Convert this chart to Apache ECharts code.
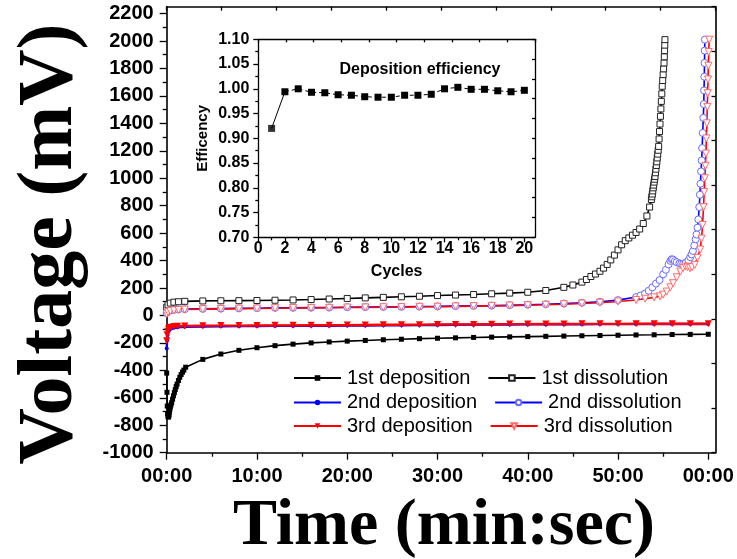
<!DOCTYPE html>
<html>
<head>
<meta charset="utf-8">
<script src="https://cdn.jsdelivr.net/npm/echarts@6/dist/echarts.min.js"></script>
<style>
  html, body { margin: 0; padding: 0; background: #fff; }
  #chart { width: 737px; height: 559px; }
</style>
</head>
<body>
<div id="chart"></div>
<script>
// ---- Galvanostatic cycling: voltage (mV) versus time (min) ----
// Each series is a list of [time in minutes, voltage in mV].
const deposition1 = [
  [0, -420], [0.03, -560], [0.06, -660], [0.1, -715], [0.14, -735], [0.18, -740], [0.22, -738],
  [0.26, -725], [0.3, -705], [0.35, -685], [0.4, -668], [0.47, -652], [0.55, -636], [0.65, -610],
  [0.75, -585], [0.85, -562], [0.95, -540], [1.05, -518], [1.15, -500], [1.3, -474], [1.45, -450],
  [1.6, -430], [1.75, -413], [1.9, -398], [2.1, -377], [4, -320], [6, -281], [8, -254], [10, -235],
  [12, -220], [14, -209], [16, -200], [18, -193], [20, -187], [22, -182], [24, -177], [26, -173],
  [28, -169], [30, -166], [32, -163], [34, -160], [36, -158], [38, -156], [40, -154], [42, -152],
  [44, -150], [46, -148], [48, -146], [50, -144], [52, -142], [54, -141], [56, -139], [58, -138], [60, -137]
];
const dissolution1 = [
  [0, 60], [0.15, 78], [0.4, 90], [0.8, 97], [1.3, 100], [2, 103], [4, 106], [6, 107], [8, 108],
  [10, 109], [12, 111], [14, 113], [16, 116], [18, 120], [20, 124], [22, 128], [24, 132], [26, 136],
  [28, 140], [30, 145], [32, 149], [34, 153], [36, 158], [38, 163], [40, 169], [42, 182], [44, 205],
  [45, 222], [46, 243], [46.5, 262], [47, 284], [47.5, 302], [48, 322], [48.4, 345], [48.8, 372],
  [49.2, 405], [49.6, 440], [50, 478], [50.4, 515], [50.8, 545], [51.2, 565], [51.6, 585], [52, 605],
  [52.4, 630], [52.8, 670], [53.2, 725], [53.5, 790], [53.7, 845], [53.75, 865], [53.8, 885],
  [53.85, 908], [53.9, 930], [53.95, 950], [54, 972], [54.05, 993], [54.1, 1013], [54.15, 1040],
  [54.2, 1066], [54.25, 1093], [54.3, 1120], [54.35, 1148], [54.4, 1176], [54.45, 1204], [54.5, 1232],
  [54.55, 1286], [54.6, 1340], [54.65, 1395], [54.7, 1451], [54.75, 1505], [54.8, 1560], [54.85, 1615],
  [54.9, 1670], [54.95, 1712], [55, 1755], [55.05, 1797], [55.1, 1840], [55.13, 1885], [55.16, 1930],
  [55.18, 1970], [55.2, 2010]
];
const deposition2 = [
  [0, -240], [0.05, -180], [0.1, -140], [0.2, -115], [0.3, -103], [0.5, -95], [0.8, -90], [1.2, -86],
  [2, -83], [4, -80], [6, -79], [8, -78], [10, -77], [12, -76], [14, -76], [16, -75], [18, -75],
  [20, -74], [22, -73], [24, -72], [26, -71], [28, -70], [30, -69], [32, -68], [34, -67], [36, -66],
  [38, -66], [40, -65], [42, -65], [44, -64], [46, -64], [48, -63], [50, -63], [52, -63], [54, -62],
  [56, -62], [58, -62], [60, -62]
];
const dissolution2 = [
  [0, 18], [0.15, 30], [0.4, 37], [0.8, 41], [1.3, 44], [2, 46], [4, 48], [6, 50], [8, 52], [10, 53],
  [12, 55], [14, 56], [16, 57], [18, 58], [20, 60], [22, 61], [24, 62], [26, 63], [28, 65], [30, 66],
  [32, 68], [34, 70], [36, 72], [38, 75], [40, 78], [42, 82], [44, 87], [46, 93], [48, 100], [50, 112],
  [52, 134], [52.5, 146], [53, 160], [53.4, 180], [53.8, 205], [54.2, 232], [54.6, 258], [55, 300],
  [55.3, 333], [55.6, 372], [55.8, 398], [55.94, 410], [56.1, 407], [56.3, 396], [56.5, 388],
  [56.8, 380], [57, 376], [57.23, 376], [57.5, 384], [57.8, 402], [58, 425], [58.15, 445], [58.3, 470],
  [58.45, 510], [58.6, 555], [58.7, 590], [58.8, 640], [58.9, 700], [59, 790], [59.07, 880],
  [59.13, 960], [59.2, 1050], [59.27, 1130], [59.32, 1220], [59.38, 1330], [59.45, 1440], [59.5, 1540],
  [59.53, 1640], [59.56, 1740], [59.58, 1840], [59.6, 1930], [59.62, 2010]
];
const deposition3 = [
  [0, -185], [0.05, -140], [0.1, -115], [0.2, -98], [0.3, -90], [0.5, -85], [0.8, -81], [1.2, -79],
  [2, -77], [4, -75], [6, -74], [8, -74], [10, -73], [12, -72], [14, -72], [16, -71], [18, -71],
  [20, -70], [22, -69], [24, -68], [26, -68], [28, -67], [30, -66], [32, -65], [34, -65], [36, -64],
  [38, -63], [40, -63], [42, -62], [44, -62], [46, -61], [48, -61], [50, -61], [52, -60], [54, -60],
  [56, -60], [58, -60], [60, -60]
];
const dissolution3 = [
  [0, 12], [0.15, 24], [0.4, 32], [0.8, 37], [1.3, 40], [2, 43], [4, 46], [6, 48], [8, 50], [10, 51],
  [12, 53], [14, 54], [16, 55], [18, 56], [20, 58], [22, 59], [24, 60], [26, 61], [28, 63], [30, 64],
  [32, 66], [34, 68], [36, 70], [38, 72], [40, 75], [42, 78], [44, 82], [46, 87], [48, 93], [50, 102],
  [52, 113], [53, 122], [54, 132], [54.65, 140], [55, 152], [55.4, 174], [55.8, 205], [56.1, 235],
  [56.5, 278], [56.9, 320], [57.2, 345], [57.45, 357], [57.7, 352], [57.97, 345], [58.2, 352],
  [58.5, 369], [58.8, 420], [59.1, 480], [59.25, 560], [59.37, 660], [59.47, 790], [59.55, 900],
  [59.62, 1000], [59.68, 1090], [59.74, 1180], [59.79, 1290], [59.84, 1400], [59.89, 1520],
  [59.93, 1620], [59.97, 1720], [60.01, 1820], [60.05, 1920], [60.1, 2010]
];

// Inset: deposition efficiency per cycle
const effCycles = [1, 2, 3, 4, 5, 6, 7, 8, 9, 10, 11, 12, 13, 14, 15, 16, 17, 18, 19, 20];
const effValues = [0.920, 0.994, 1.000, 0.993, 0.992, 0.988, 0.987, 0.984, 0.983, 0.983,
                   0.987, 0.987, 0.989, 1.000, 1.003, 0.999, 0.999, 0.996, 0.994, 0.997];

// Tick positions
const timeMajorTicks = [0, 10, 20, 30, 40, 50, 60];
const timeMinorTicks = [5, 15, 25, 35, 45, 55];
const voltMajorTicks = [-1000, -800, -600, -400, -200, 0, 200, 400, 600, 800, 1000, 1200, 1400, 1600, 1800, 2000, 2200];
const voltMinorTicks = [-900, -700, -500, -300, -100, 100, 300, 500, 700, 900, 1100, 1300, 1500, 1700, 1900, 2100];
const cycleMajorTicks = [0, 2, 4, 6, 8, 10, 12, 14, 16, 18, 20];
const cycleMinorTicks = [1, 3, 5, 7, 9, 11, 13, 15, 17, 19];
const effMajorTicks = [0.70, 0.75, 0.80, 0.85, 0.90, 0.95, 1.00, 1.05, 1.10];
const effMinorTicks = [0.725, 0.775, 0.825, 0.875, 0.925, 0.975, 1.025, 1.075];

const legendRows = [
  ['1st deposition', '1st dissolution'],
  ['2nd deposition', '2nd dissolution'],
  ['3rd deposition', '3rd dissolution']
];

const BLACK = '#000';
const BLUE = '#0000ff';
const RED = '#ff0000';

function fmtTime(v) {
  const m = Math.round(v) % 60;
  return (m < 10 ? '0' : '') + m + ':00';
}

const frameLine = { show: true, onZero: false, lineStyle: { color: BLACK, width: 1.6 } };
const insetLine = { show: true, onZero: false, lineStyle: { color: BLACK, width: 1.3 } };
const tickLine = { color: BLACK, width: 1.3 };
const noSplit = { show: false };

// builds an axis that only draws a set of tick marks
function tickAxis(base, values, len, labelCfg) {
  return Object.assign({
    type: 'value',
    axisLine: { show: false, onZero: false },
    axisTick: { show: true, customValues: values, length: len, inside: false, lineStyle: tickLine },
    axisLabel: labelCfg || { show: false },
    splitLine: noSplit
  }, base);
}
// mirrored frame side with ten equal divisions
function frameAxis(base, len) {
  return Object.assign({
    type: 'value', min: 0, max: 10, interval: 1,
    axisLine: frameLine,
    axisTick: { show: true, inside: true, length: len, lineStyle: tickLine },
    axisLabel: { show: false },
    splitLine: noSplit
  }, base);
}

const mainLabel = { fontSize: 20, fontWeight: 'bold', fontFamily: 'Liberation Sans', color: BLACK };
const insetLabel = { fontSize: 16, fontWeight: 'bold', fontFamily: 'Liberation Sans', color: BLACK };

const chart = echarts.init(document.getElementById('chart'), null, { renderer: 'canvas' });

const option = {
  animation: false,
  backgroundColor: '#fff',
  grid: [
    { left: 166.7, top: 6.7, width: 548.8, height: 446 },
    { left: 258.3, top: 39.3, width: 276.7, height: 198, backgroundColor: '#fff', show: true, borderWidth: 0 }
  ],
  xAxis: [
    // main time axis
    tickAxis({ gridIndex: 0, position: 'bottom', min: 0, max: 60.8, axisLine: frameLine }, timeMajorTicks, 7,
      Object.assign({ show: true, customValues: timeMajorTicks, formatter: fmtTime, margin: 14 }, mainLabel)),
    tickAxis({ gridIndex: 0, position: 'bottom', min: 0, max: 60.8 }, timeMinorTicks, 4),
    frameAxis({ gridIndex: 0, position: 'top' }, 4),
    // inset cycle axis
    tickAxis({ gridIndex: 1, position: 'bottom', min: 0, max: 20.8, axisLine: insetLine,
      name: 'Cycles', nameLocation: 'middle', nameGap: 26,
      nameTextStyle: { fontSize: 16, fontWeight: 'bold', fontFamily: 'Liberation Sans', color: BLACK } },
      cycleMajorTicks, 5,
      Object.assign({ show: true, customValues: cycleMajorTicks, margin: 3 }, insetLabel)),
    tickAxis({ gridIndex: 1, position: 'bottom', min: 0, max: 20.8 }, cycleMinorTicks, 3),
    frameAxis({ gridIndex: 1, position: 'top', axisLine: insetLine }, 3)
  ],
  yAxis: [
    // main voltage axis
    tickAxis({ gridIndex: 0, position: 'left', min: -1000, max: 2250, axisLine: frameLine }, voltMajorTicks, 7,
      Object.assign({ show: true, customValues: voltMajorTicks, margin: 13, formatter: v => String(v) }, mainLabel)),
    tickAxis({ gridIndex: 0, position: 'left', min: -1000, max: 2250 }, voltMinorTicks, 4),
    frameAxis({ gridIndex: 0, position: 'right' }, 4),
    // inset efficiency axis
    tickAxis({ gridIndex: 1, position: 'left', min: 0.7, max: 1.1, axisLine: insetLine,
      name: 'Efficency', nameLocation: 'middle', nameGap: 48, nameRotate: 90,
      nameTextStyle: { fontSize: 15, fontWeight: 'bold', fontFamily: 'Liberation Sans', color: BLACK } },
      effMajorTicks, 5,
      Object.assign({ show: true, customValues: effMajorTicks, margin: 9, formatter: v => v.toFixed(2) }, insetLabel)),
    tickAxis({ gridIndex: 1, position: 'left', min: 0.7, max: 1.1 }, effMinorTicks, 3),
    frameAxis({ gridIndex: 1, position: 'right', axisLine: insetLine }, 3)
  ],
  legend: legendRows.map((names, i) => ({
    data: names,
    left: 293,
    top: [368, 392.5, 416][i],
    orient: 'horizontal',
    padding: 0,
    itemWidth: 47,
    itemHeight: 7,
    itemGap: 17,
    selectedMode: false,
    textStyle: { fontSize: 20, fontFamily: 'Liberation Sans', color: BLACK, padding: [0, 0, 0, 1] }
  })),
  series: [
    {
      name: '1st deposition', type: 'line', xAxisIndex: 0, yAxisIndex: 0, data: deposition1,
      symbol: 'rect', symbolSize: 5,
      lineStyle: { color: BLACK, width: 1.6 }, itemStyle: { color: BLACK }
    },
    {
      name: '1st dissolution', type: 'line', xAxisIndex: 0, yAxisIndex: 0, data: dissolution1,
      symbol: 'rect', symbolSize: 6,
      lineStyle: { color: BLACK, width: 1.6 }, itemStyle: { color: '#fff', borderColor: '#222', borderWidth: 1 }
    },
    {
      name: '2nd deposition', type: 'line', xAxisIndex: 0, yAxisIndex: 0, data: deposition2,
      symbol: 'circle', symbolSize: 4,
      lineStyle: { color: BLUE, width: 2.4 }, itemStyle: { color: BLUE }
    },
    {
      name: '2nd dissolution', type: 'line', xAxisIndex: 0, yAxisIndex: 0, data: dissolution2,
      symbol: 'circle', symbolSize: 7,
      lineStyle: { color: BLUE, width: 1.6 }, itemStyle: { color: '#fff', borderColor: '#6a6aff', borderWidth: 1 }
    },
    {
      name: '3rd deposition', type: 'line', xAxisIndex: 0, yAxisIndex: 0, data: deposition3,
      symbol: 'triangle', symbolRotate: 180, symbolSize: 7,
      lineStyle: { color: RED, width: 2.4 }, itemStyle: { color: RED }
    },
    {
      name: '3rd dissolution', type: 'line', xAxisIndex: 0, yAxisIndex: 0, data: dissolution3,
      symbol: 'triangle', symbolRotate: 180, symbolSize: 7,
      lineStyle: { color: RED, width: 1.6 }, itemStyle: { color: '#fff', borderColor: '#ff6a6a', borderWidth: 1 }
    },
    // inset: first segment solid, the rest dashed
    {
      type: 'line', xAxisIndex: 3, yAxisIndex: 3,
      data: effCycles.slice(0, 2).map((c, i) => [c, effValues[i]]),
      showSymbol: false, lineStyle: { color: BLACK, width: 1 }
    },
    {
      type: 'line', xAxisIndex: 3, yAxisIndex: 3,
      data: effCycles.slice(1).map((c, i) => [c, effValues[i + 1]]),
      symbol: 'rect', symbolSize: 7,
      lineStyle: { color: BLACK, width: 1, type: [4, 3] }, itemStyle: { color: BLACK }
    },
    {
      type: 'scatter', xAxisIndex: 3, yAxisIndex: 3,
      data: effCycles.slice(0, 1).map((c, i) => [c, effValues[i]]),
      symbol: 'rect', symbolSize: 7, itemStyle: { color: BLACK }
    }
  ],
  graphic: [
    {
      type: 'text', x: 51, y: 244, rotation: Math.PI / 2,
      style: { text: 'Voltage (mV)', font: 'bold 78px "Liberation Serif"', fill: BLACK, align: 'center', verticalAlign: 'middle' }
    },
    {
      type: 'text', x: 444, y: 527,
      style: { text: 'Time (min:sec)', font: 'bold 66px "Liberation Serif"', fill: BLACK, align: 'center', verticalAlign: 'middle' }
    },
    {
      type: 'text', x: 420, y: 70,
      style: { text: 'Deposition efficiency', font: 'bold 16px "Liberation Sans"', fill: BLACK, align: 'center', verticalAlign: 'middle' }
    }
  ]
};

chart.setOption(option);
</script>
</body>
</html>
